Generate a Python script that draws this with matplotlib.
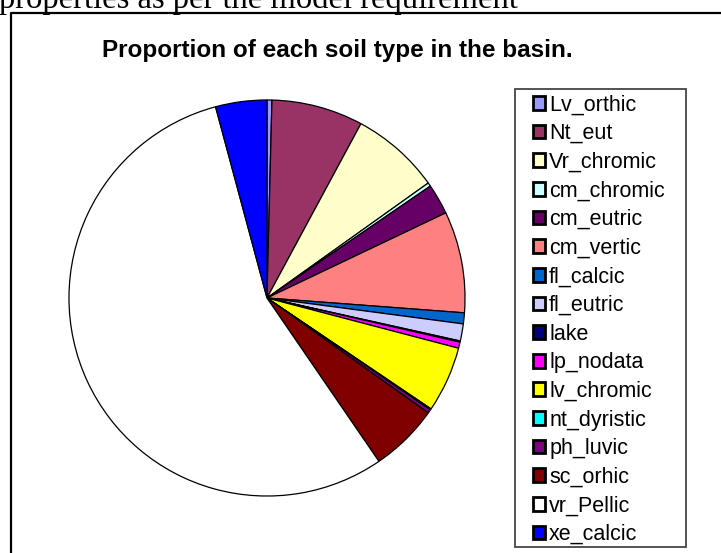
import matplotlib
matplotlib.use("Agg")
import matplotlib.pyplot as plt
from matplotlib.lines import Line2D
from matplotlib.patches import Rectangle, Patch

# Share of each soil type in the basin (%)
soil_types = ["Lv_orthic", "Nt_eut", "Vr_chromic", "cm_chromic", "cm_eutric",
              "cm_vertic", "fl_calcic", "fl_eutric", "lake", "lp_nodata",
              "lv_chromic", "nt_dyristic", "ph_luvic", "sc_orhic", "vr_Pellic",
              "xe_calcic"]
shares = [0.4, 7.5, 7.3, 0.3, 2.5, 8.3, 0.9, 1.4, 0.1, 0.5,
          5.4, 0.1, 0.3, 5.6, 55.6, 4.2]
colors = ["#9999FF", "#993366", "#FFFFCC", "#CCFFFF", "#660066", "#FF8080",
          "#0066CC", "#CCCCFF", "#000080", "#FF00FF", "#FFFF00", "#00FFFF",
          "#800080", "#800000", "#FFFFFF", "#0000FF"]

W, H = 721, 553
fig = plt.figure(figsize=(W / 100, H / 100), dpi=100)
fig.patch.set_facecolor("white")

# Surrounding document text and chart frame
fig.text(-0.002, 1 - 8 / H, "properties as per the model requirement",
         family="Liberation Serif", fontsize=23.5, va="baseline", ha="left")
fig.add_artist(Line2D([10.5 / W, 10.5 / W, 1.0], [0.0, 1 - 12.5 / H, 1 - 12.5 / H],
                      transform=fig.transFigure, color="black", lw=1.6))

fig.text(337 / W, 1 - 57 / H, "Proportion of each soil type in the basin.",
         family="Liberation Sans", fontweight="bold", fontsize=17.5,
         ha="center", va="baseline")

# Pie
cx, cy, r = 267, 298, 200
ax = fig.add_axes([(cx - r) / W, 1 - (cy + r) / H, 2 * r / W, 2 * r / H])
ax.pie(shares, colors=colors, startangle=90, counterclock=False, radius=1,
       wedgeprops=dict(edgecolor="black", linewidth=0.9))
ax.set_xlim(-1.01, 1.01)
ax.set_ylim(-1.01, 1.01)
ax.axis("off")

# Legend
handles = [Patch(facecolor=c, edgecolor="black", linewidth=2) for c in colors]
fig.legend(handles, soil_types, loc="upper left",
           bbox_to_anchor=(533 / W, 1 - 94.5 / H), frameon=False,
           prop=dict(family="Liberation Sans", size=15.5),
           handlelength=0.55, handleheight=0.6, handletextpad=0.2,
           labelspacing=0.355, borderpad=0, borderaxespad=0)
fig.add_artist(Rectangle((515 / W, 1 - 547 / H), 171 / W, 458 / H,
                         transform=fig.transFigure, facecolor="none",
                         edgecolor="#454545", lw=1.3))

fig.savefig("out.png", dpi=100)
